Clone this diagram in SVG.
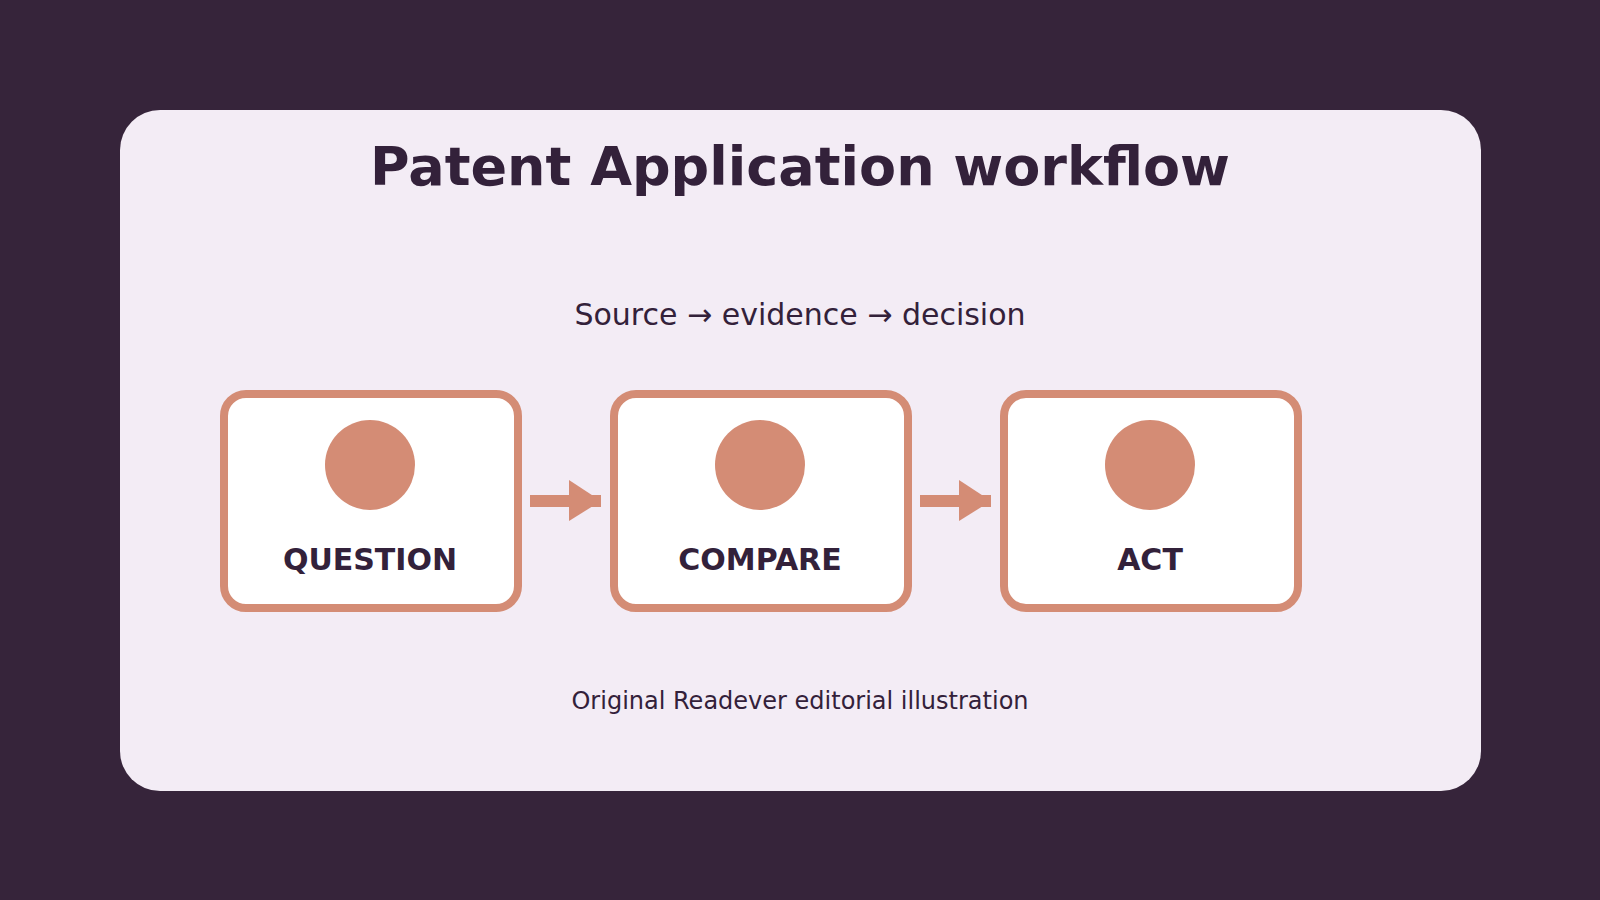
<svg xmlns="http://www.w3.org/2000/svg" width="1600" height="900" viewBox="0 0 1600 900">
<style>
text{font-family:"DejaVu Sans",sans-serif;fill:#33213a;text-anchor:middle}
.box{fill:#fff;stroke:#d48c75;stroke-width:8}
.dot{fill:#d48c75}
.lbl{font-size:30px;font-weight:bold}
.conn{stroke:#d48c75;stroke-width:12}
</style>
<rect width="1600" height="900" fill="#36243a"/>
<rect x="120" y="110" width="1361" height="681" rx="40" fill="#f3ecf5"/>
<text x="800" y="185" font-size="54" font-weight="bold">Patent Application workflow</text>
<text x="800" y="325" font-size="30">Source → evidence → decision</text>
<g id="question"><rect class="box" x="224" y="394" width="294" height="214" rx="22"/><circle class="dot" cx="370" cy="465" r="45"/><text class="lbl" x="370" y="570">QUESTION</text></g>
<g id="compare"><rect class="box" x="614" y="394" width="294" height="214" rx="22"/><circle class="dot" cx="760" cy="465" r="45"/><text class="lbl" x="760" y="570">COMPARE</text></g>
<g id="act"><rect class="box" x="1004" y="394" width="294" height="214" rx="22"/><circle class="dot" cx="1150" cy="465" r="45"/><text class="lbl" x="1150" y="570">ACT</text></g>
<g id="connectors">
<line class="conn" x1="530" y1="501" x2="601" y2="501"/><polygon class="dot" points="569,480 601,501 569,521"/>
<line class="conn" x1="920" y1="501" x2="991" y2="501"/><polygon class="dot" points="959,480 991,501 959,521"/>
</g>
<text x="800" y="709" font-size="24">Original Readever editorial illustration</text>
</svg>
